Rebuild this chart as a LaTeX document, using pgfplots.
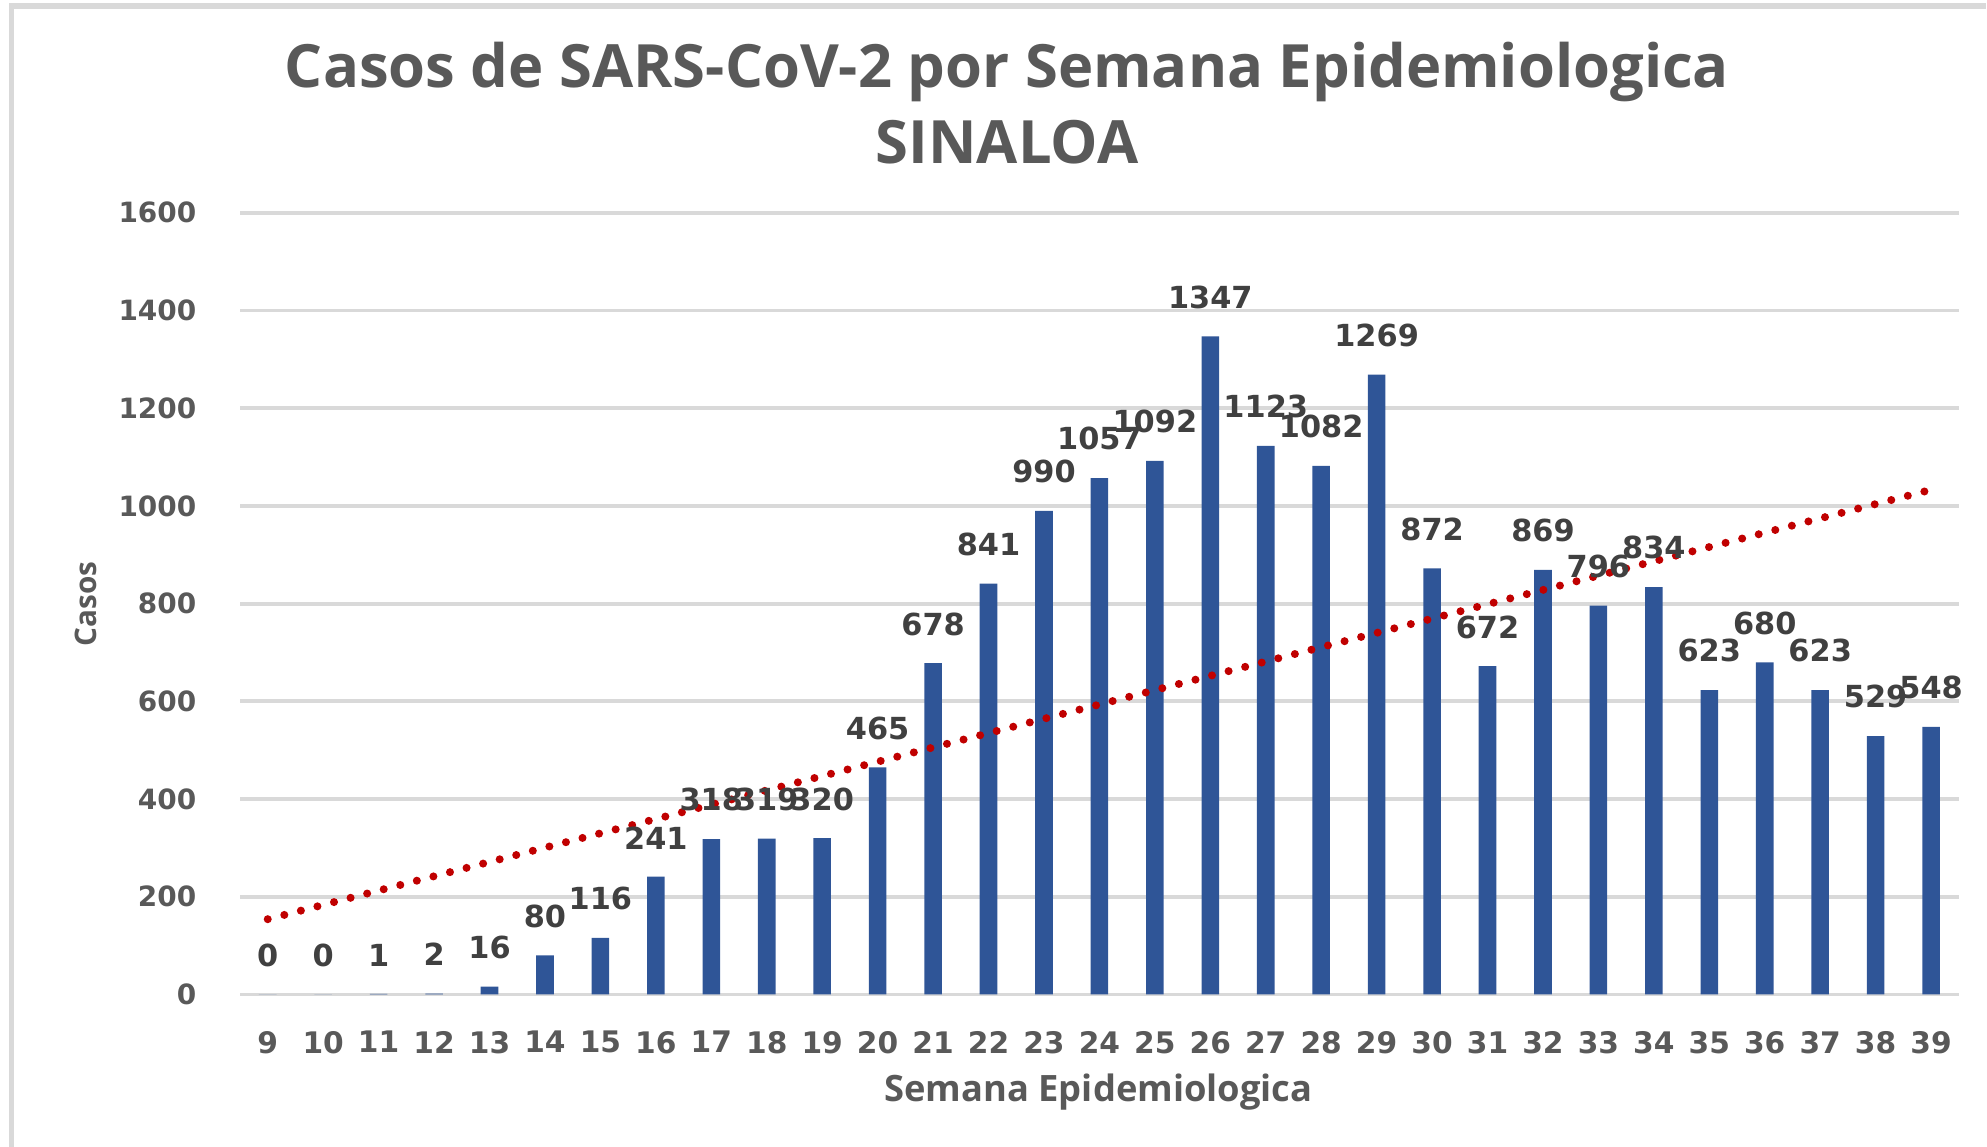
\documentclass[border=0pt]{standalone}
\usepackage{pgfplots}
\pgfplotsset{compat=1.18}
\usepackage{fontspec}
\setmainfont{Open Sans}
\newfontfamily\dvs{DejaVu Sans}
\definecolor{barblue}{RGB}{47,85,151}
\definecolor{trendred}{RGB}{192,0,0}
\definecolor{txtgray}{RGB}{89,89,89}
\definecolor{lblgray}{RGB}{64,64,64}
\definecolor{gridgray}{RGB}{217,217,217}
\begin{document}
\begin{tikzpicture}
\begin{axis}[
  at={(0,0)}, anchor=south west,
  scale only axis,
  width=17.30cm, height=7.868cm,
  xmin=8.5, xmax=39.5,
  ymin=0, ymax=1600,
  ytick={0,200,...,1600},
  xtick={9,...,39},
  axis line style={draw=none},
  major tick length=0pt,
  ymajorgrids,
  grid style={draw=gridgray, line width=1.1pt},
  /pgf/number format/assume math mode=true,
  /pgf/number format/1000 sep={},
  yticklabel style={font=\dvs\bfseries\fontsize{8}{10}\selectfont, text=txtgray, xshift=-9pt},
  xticklabel style={font=\dvs\bfseries\fontsize{8.5}{10}\selectfont, text=txtgray, yshift=-7pt},
  clip=false,
]
\addplot[ybar, bar width=0.177cm, bar shift=0pt, fill=barblue, draw=none,
  nodes near coords,
  every node near coord/.append style={font=\dvs\bfseries\fontsize{8.7}{10}\selectfont, text=lblgray, anchor=south, yshift=4.4pt},
] coordinates {
(9,0) (10,0) (11,1) (12,2) (13,16) (14,80) (15,116) (16,241) (17,318) (18,319)
(19,320) (20,465) (21,678) (22,841) (23,990) (24,1057) (25,1092) (26,1347) (27,1123) (28,1082)
(29,1269) (30,872) (31,672) (32,869) (33,796) (34,834) (35,623) (36,680) (37,623) (38,529) (39,548)
};
\addplot[sharp plot, trendred, line width=2.3pt, line cap=round, dash pattern=on 0pt off 4.9pt] coordinates {(9,154.1) (39,1033.1)};
\end{axis}
% titles
\node[font=\bfseries\fontsize{17.1}{20}\selectfont, text=txtgray] at (7.72,9.29) {Casos de SARS-CoV-2 por Semana Epidemiologica};
\node[font=\bfseries\fontsize{17.1}{20}\selectfont, text=txtgray] at (7.72,8.58) {SINALOA};
\node[font=\bfseries\fontsize{10.4}{12}\selectfont, text=txtgray] at (8.64,-0.982) {Semana Epidemiologica};
\node[font=\bfseries\fontsize{8.5}{10}\selectfont, text=txtgray, rotate=90] at (-1.556,3.93) {Casos};
% border
\draw[gridgray, line width=1.5pt] (-2.30,-1.534) -- (-2.30,9.95) -- (17.577,9.95);
\pgfresetboundingbox
\useasboundingbox (-2.416,-1.534) rectangle (17.584,10.010);
\end{tikzpicture}
\end{document}
